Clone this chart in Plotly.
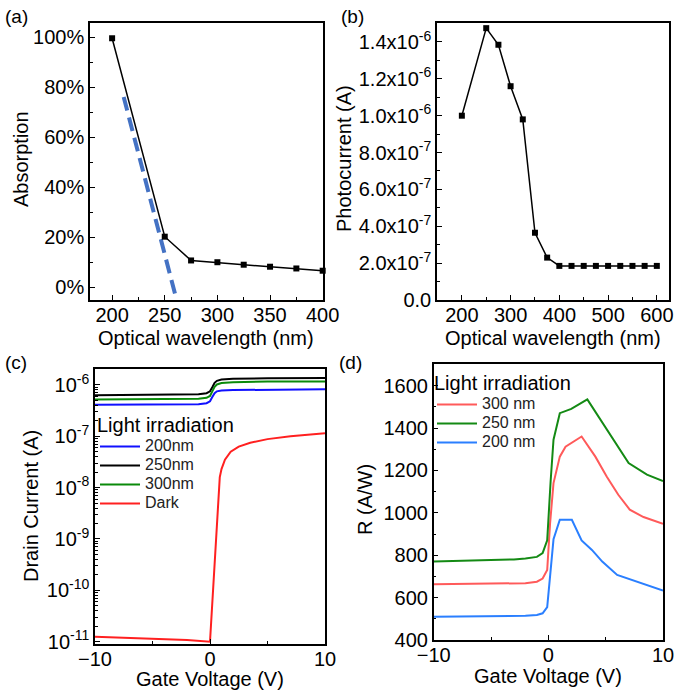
import plotly.graph_objects as go

# ---------------- data ----------------
# (a) absorption
wl_a = [200, 250, 275, 300, 325, 350, 375, 400]
absorption = [99.5, 20.2, 10.7, 10.0, 9.0, 8.2, 7.5, 6.6]
fit_wl = [211, 260]
fit_abs = [76, -3]

# (b) photocurrent
wl_b = [200, 250, 275, 300, 325, 350, 375, 400, 425, 450, 475, 500, 525, 550, 575, 600]
photocurrent = [1.00e-6, 1.475e-6, 1.385e-6, 1.16e-6, 0.98e-6, 0.365e-6, 0.23e-6,
                0.185e-6, 0.185e-6, 0.185e-6, 0.185e-6, 0.185e-6, 0.185e-6, 0.185e-6, 0.185e-6, 0.185e-6]

# (c) transfer curves
vg_light = [-10, -5, -2, -1, -0.3, 0, 0.2, 0.4, 0.6, 1, 2, 3, 5, 10]
id_200 = [4.1e-7, 4.1e-7, 4.15e-7, 4.2e-7, 4.4e-7, 4.8e-7, 5.8e-7, 6.9e-7, 7.5e-7, 7.8e-7, 7.95e-7, 8.0e-7, 8.1e-7, 8.2e-7]
id_250 = [6.3e-7, 6.35e-7, 6.45e-7, 6.6e-7, 6.9e-7, 7.5e-7, 9.0e-7, 1.1e-6, 1.2e-6, 1.27e-6, 1.32e-6, 1.34e-6, 1.35e-6, 1.36e-6]
id_300 = [5.2e-7, 5.25e-7, 5.3e-7, 5.4e-7, 5.6e-7, 6.1e-7, 7.5e-7, 9.2e-7, 1.02e-6, 1.09e-6, 1.13e-6, 1.15e-6, 1.16e-6, 1.17e-6]
vg_dark = [-10, -5, -2, 0, 0.85, 1.0, 1.3, 1.8, 2.5, 3.5, 5, 7, 10]
id_dark = [1.25e-11, 1.15e-11, 1.08e-11, 1.0e-11, 1.6e-8, 2.3e-8, 3.5e-8, 5.0e-8, 6.3e-8, 7.5e-8, 8.8e-8, 1.0e-7, 1.15e-7]

# (d) responsivity
vg_r300 = [-10, -5, -2, -1, -0.5, -0.1, 0.15, 0.45, 1.0, 1.5, 2.9, 4.1, 5.1, 6.1, 7.1, 8.3, 10]
r_300 = [663, 664, 668, 675, 690, 730, 950, 1140, 1265, 1312, 1360, 1265, 1170, 1085, 1015, 980, 948]
vg_r250 = [-10, -5, -3, -2, -1, -0.5, -0.1, 0.2, 0.45, 1.0, 2.0, 3.4, 4.5, 5.7, 7.0, 8.6, 10]
r_250 = [770, 775, 780, 785, 792, 810, 870, 1150, 1345, 1470, 1490, 1535, 1445, 1345, 1235, 1180, 1150]
vg_r200 = [-10, -5, -2, -1, -0.5, -0.1, 0.2, 0.45, 1.0, 2.05, 2.9, 3.8, 4.7, 6.0, 10]
r_200 = [510, 511, 514, 518, 526, 555, 750, 875, 967, 967, 870, 825, 770, 707, 633]

# tick labels
pct_vals = [0, 20, 40, 60, 80, 100]
pct_text = ["0%", "20%", "40%", "60%", "80%", "100%"]
pc_vals = [0, 2e-7, 4e-7, 6e-7, 8e-7, 1.0e-6, 1.2e-6, 1.4e-6]
pc_text = ["0.0", "2.0x10<sup>-7</sup>", "4.0x10<sup>-7</sup>", "6.0x10<sup>-7</sup>", "8.0x10<sup>-7</sup>",
           "1.0x10<sup>-6</sup>", "1.2x10<sup>-6</sup>", "1.4x10<sup>-6</sup>"]
log_vals = [1e-11, 1e-10, 1e-9, 1e-8, 1e-7, 1e-6]
log_text = ["10<sup>-11</sup>", "10<sup>-10</sup>", "10<sup>-9</sup>", "10<sup>-8</sup>", "10<sup>-7</sup>", "10<sup>-6</sup>"]

# ---------------- figure ----------------
W, H = 674, 694
FONT = "Liberation Sans, Arial, sans-serif"

def px(x):
    return x / W

def py(y):
    return 1 - y / H

def big(name):
    return '<span style="font-size:16px">' + name + '</span>'

fig = go.Figure()

# (a)
fig.add_trace(go.Scatter(x=fit_wl, y=fit_abs, mode="lines", xaxis="x", yaxis="y",
                         line=dict(color="#4472C4", width=4, dash="14px,7px"), showlegend=False))
fig.add_trace(go.Scatter(x=wl_a, y=absorption, mode="lines+markers", xaxis="x", yaxis="y",
                         line=dict(color="black", width=1.5),
                         marker=dict(symbol="square", size=6, color="black"),
                         cliponaxis=False, showlegend=False))
# (b)
fig.add_trace(go.Scatter(x=wl_b, y=photocurrent, mode="lines+markers", xaxis="x2", yaxis="y2",
                         line=dict(color="black", width=1.5),
                         marker=dict(symbol="square", size=6, color="black"),
                         cliponaxis=False, showlegend=False))
# (c)
for name, ys, col in [("200nm", id_200, "#1010FF"), ("250nm", id_250, "#000000"),
                      ("300nm", id_300, "#0A8A0A")]:
    fig.add_trace(go.Scatter(x=vg_light, y=ys, mode="lines", name=big(name), xaxis="x3", yaxis="y3",
                             line=dict(color=col, width=2), legend="legend"))
fig.add_trace(go.Scatter(x=vg_dark, y=id_dark, mode="lines", name=big("Dark"), xaxis="x3", yaxis="y3",
                         line=dict(color="#FF2020", width=2), legend="legend"))
# (d)
for name, xs, ys, col in [("300 nm", vg_r300, r_300, "#FF5A5A"), ("250 nm", vg_r250, r_250, "#148A14"),
                          ("200 nm", vg_r200, r_200, "#2A7FFF")]:
    fig.add_trace(go.Scatter(x=xs, y=ys, mode="lines", name=big(name), xaxis="x4", yaxis="y4",
                             line=dict(color=col, width=2), legend="legend2"))

axis_common = dict(showline=True, linecolor="black", linewidth=1.5, mirror=True,
                   ticks="inside", ticklen=5, tickwidth=1.3, tickcolor="black",
                   showgrid=False, zeroline=False, automargin=False, ticklabeloverflow="allow",
                   tickfont=dict(family=FONT, size=20, color="black"))
xcommon = dict(axis_common, ticklabelstandoff=-4)

def minor_lin(d):
    return dict(ticks="inside", ticklen=3, tickwidth=1.2, tickcolor="black", dtick=d, showgrid=False)

legend_common = dict(xanchor="left", yanchor="top", bgcolor="rgba(0,0,0,0)", borderwidth=0,
                     itemwidth=40,
                     title=dict(text="Light irradiation", font=dict(family=FONT, size=20, color="black")),
                     font=dict(family=FONT, size=12, color="#222"), tracegroupgap=0)

fig.update_layout(
    template="none",
    xaxis=dict(xcommon, domain=[px(90), px(323)], anchor="y", range=[179, 400.3],
               tickvals=[200, 250, 300, 350, 400], minor=minor_lin(25)),
    yaxis=dict(axis_common, domain=[py(300), py(23)], anchor="x", range=[-5.1, 105.6],
               tickvals=pct_vals, ticktext=pct_text, minor=minor_lin(10)),
    xaxis2=dict(xcommon, domain=[px(437), px(669)], anchor="y2", range=[149, 625],
                tickvals=[200, 300, 400, 500, 600], minor=minor_lin(50)),
    yaxis2=dict(axis_common, domain=[py(300), py(23)], anchor="x2", range=[0, 1.503e-6],
                tickvals=pc_vals, ticktext=pc_text, minor=minor_lin(1e-7)),
    xaxis3=dict(xcommon, domain=[px(95), px(325)], anchor="y3", range=[-10, 10],
                tickvals=[-10, 0, 10], minor=minor_lin(5)),
    yaxis3=dict(axis_common, domain=[py(644), py(369)], anchor="x3", type="log",
                range=[-11.045, -5.69], tickvals=log_vals, ticktext=log_text,
                minor=dict(ticks="inside", ticklen=3, tickwidth=1.2, tickcolor="black", showgrid=False,
                           tickvals=[m * 10 ** e for e in range(-11, -5) for m in range(2, 10)])),
    xaxis4=dict(xcommon, domain=[px(433.7), px(663)], anchor="y4", range=[-10, 10],
                tickvals=[-10, 0, 10], minor=minor_lin(5)),
    yaxis4=dict(axis_common, domain=[py(640), py(364)], anchor="x4", range=[400, 1702],
                tickvals=[400, 600, 800, 1000, 1200, 1400, 1600], minor=minor_lin(100)),
    legend=dict(legend_common, x=px(95), y=py(406)),
    legend2=dict(legend_common, x=px(432), y=py(364)),
    width=W, height=H,
    margin=dict(l=0, r=0, t=0, b=0),
    paper_bgcolor="white", plot_bgcolor="white",
    font=dict(family=FONT, size=20, color="black"),
)

ann = []
def label(text, x, y, xanchor="left", yanchor="top", size=20, angle=0):
    ann.append(dict(text=text, x=px(x), y=py(y), xref="paper", yref="paper",
                    xanchor=xanchor, yanchor=yanchor, showarrow=False, textangle=angle,
                    font=dict(family=FONT, size=size, color="black")))

label("(a)", 3, 4, size=19)
label("(b)", 339, 4, size=19)
label("(c)", 3, 350, size=19)
label("(d)", 337, 350, size=19)
label("Optical wavelength (nm)", 206, 338, xanchor="center", yanchor="middle")
label("Optical wavelength (nm)", 553, 338, xanchor="center", yanchor="middle")
label("Gate Voltage (V)", 210, 679, xanchor="center", yanchor="middle")
label("Gate Voltage (V)", 548, 676, xanchor="center", yanchor="middle")
label("Absorption", 21, 159, xanchor="center", yanchor="middle", angle=-90)
label("Photocurrent (A)", 344, 159, xanchor="center", yanchor="middle", angle=-90)
label("Drain Current (A)", 31, 506, xanchor="center", yanchor="middle", angle=-90)
label("R (A/W)", 365, 500, xanchor="center", yanchor="middle", angle=-90)
fig.update_layout(annotations=ann)

fig.write_html("out.html", config={"displayModeBar": False},
               post_script="document.body.style.margin='0';")
